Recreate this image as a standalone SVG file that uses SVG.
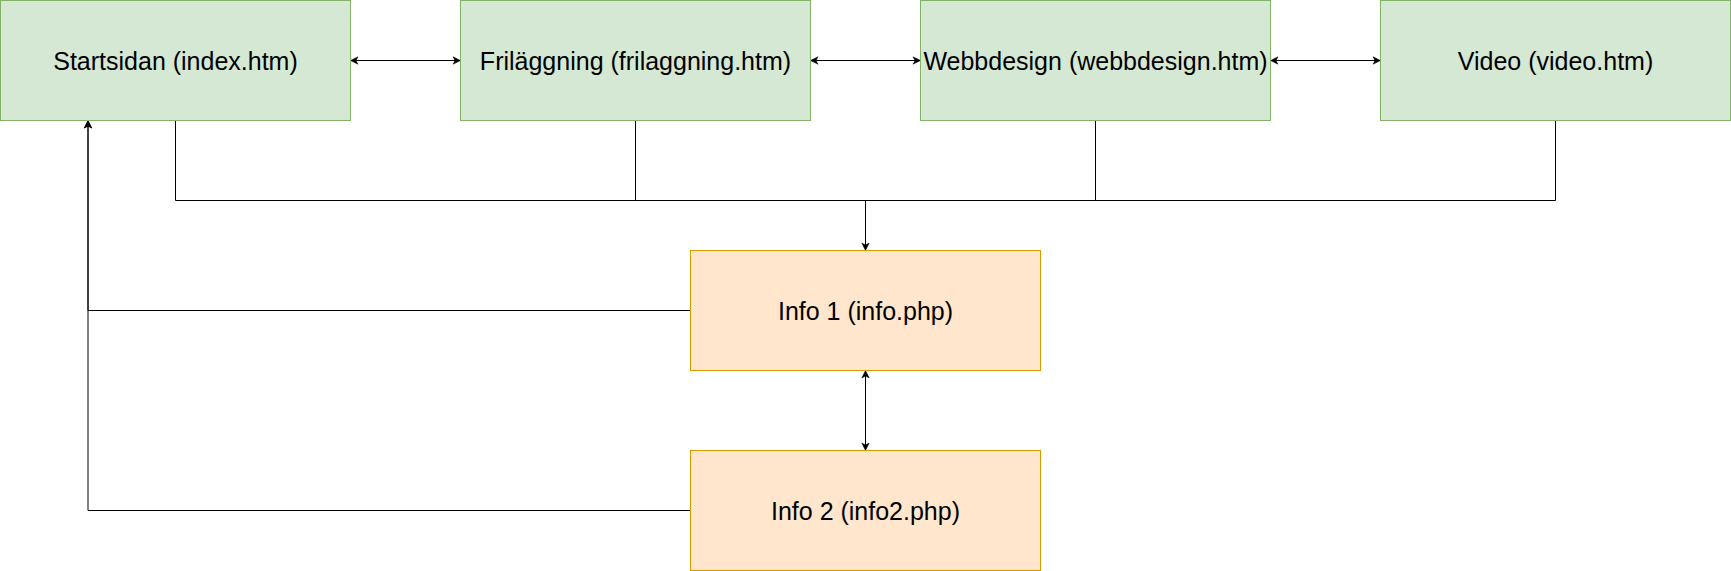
<svg xmlns="http://www.w3.org/2000/svg" width="1731" height="571" viewBox="0 0 1731 571">
<style>
.g{fill:#d5e8d4;stroke:#82b366;stroke-width:1}
.o{fill:#ffe6cc;stroke:#d79b00;stroke-width:1}
.t{font-family:"Liberation Sans",Arial,sans-serif;font-size:25px;fill:#000;text-anchor:middle}
.c{fill:none;stroke:#000;stroke-width:1}
</style>
<defs>
<marker id="ar" markerUnits="userSpaceOnUse" markerWidth="10" markerHeight="10" viewBox="0 0 10 10" refX="9" refY="5" orient="auto-start-reverse">
<path d="M1.5,1.3 L9,5 L1.5,8.7 L3.5,5 Z" fill="#000" stroke="#000" stroke-width="0.5"/>
</marker>
</defs>
<rect width="1731" height="571" fill="#fff"/>
<g id="connectors">
<path class="c" d="M350.5,60.5 H460.5" marker-start="url(#ar)" marker-end="url(#ar)"/>
<path class="c" d="M810.5,60.5 H920.5" marker-start="url(#ar)" marker-end="url(#ar)"/>
<path class="c" d="M1270.5,60.5 H1380.5" marker-start="url(#ar)" marker-end="url(#ar)"/>
<path class="c" d="M175.5,120.5 V200.5 H1555.5 V120.5"/>
<path class="c" d="M635.5,120.5 V200.5"/>
<path class="c" d="M1095.5,120.5 V200.5"/>
<path class="c" d="M865.5,200.5 V250.5" marker-end="url(#ar)"/>
<path class="c" d="M690.5,310.5 H88 V120.5" marker-end="url(#ar)"/>
<path class="c" d="M690.5,510.5 H88 V120.5" marker-end="url(#ar)"/>
<path class="c" d="M865.5,370.5 V450.5" marker-start="url(#ar)" marker-end="url(#ar)"/>
</g>
<g id="startsidan"><rect class="g" x="0.5" y="0.5" width="350" height="120"/><text class="t" x="175.5" y="69.5">Startsidan (index.htm)</text></g>
<g id="frilaggning"><rect class="g" x="460.5" y="0.5" width="350" height="120"/><text class="t" x="635.5" y="69.5">Friläggning (frilaggning.htm)</text></g>
<g id="webbdesign"><rect class="g" x="920.5" y="0.5" width="350" height="120"/><text class="t" x="1095.5" y="69.5">Webbdesign (webbdesign.htm)</text></g>
<g id="video"><rect class="g" x="1380.5" y="0.5" width="350" height="120"/><text class="t" x="1555.5" y="69.5">Video (video.htm)</text></g>
<g id="info1"><rect class="o" x="690.5" y="250.5" width="350" height="120"/><text class="t" x="865.5" y="319.5">Info 1 (info.php)</text></g>
<g id="info2"><rect class="o" x="690.5" y="450.5" width="350" height="120"/><text class="t" x="865.5" y="519.5">Info 2 (info2.php)</text></g>
</svg>
